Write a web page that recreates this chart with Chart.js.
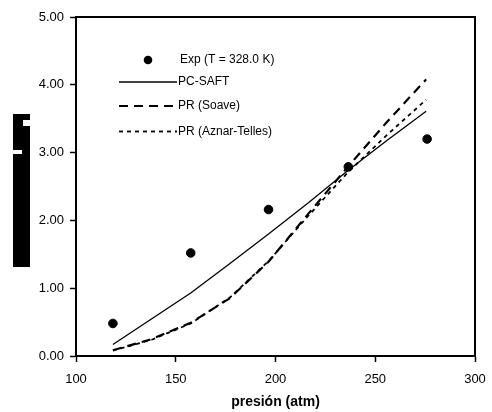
<!DOCTYPE html>
<html>
<head>
<meta charset="utf-8">
<script src="https://cdn.jsdelivr.net/npm/chart.js@4.4.1/dist/chart.umd.min.js"></script>
<style>
html,body{margin:0;padding:0;background:#fff;}
#wrap{width:492px;height:412px;position:relative;}
</style>
</head>
<body>
<div id="wrap"><canvas id="c" width="492" height="412"></canvas></div>
<script>
// Experimental points
const expPressure = [118.5, 157.5, 196.5, 236.5, 276];
const expValues = [0.48, 1.52, 2.16, 2.79, 3.20];
// Model curves
const modelPressure = [118.5, 138, 157.5, 177, 196.5, 216.5, 236, 255.5, 275.5];
const pcSaft = [0.17, 0.55, 0.93, 1.36, 1.80, 2.26, 2.73, 3.17, 3.61];
const prSoave = [0.085, 0.25, 0.49, 0.85, 1.39, 2.10, 2.78, 3.44, 4.08];
const prAznar = [0.08, 0.24, 0.48, 0.86, 1.40, 2.07, 2.70, 3.25, 3.78];
// Axis ticks
const xTicks = [100, 150, 200, 250, 300];
const yTicks = [0, 1, 2, 3, 4, 5];
const seriesLabels = ['Exp (T = 328.0 K)', 'PC-SAFT', 'PR (Soave)', 'PR (Aznar-Telles)'];
const xTitle = 'presión (atm)';

const toXY = (xs, ys) => xs.map((x, i) => ({x: x, y: ys[i]}));
const FONT = '"Liberation Sans", Arial, sans-serif';

const framePlugin = {
  id: 'frame',
  afterDraw(chart) {
    const {ctx, chartArea: a} = chart;
    ctx.save();
    ctx.strokeStyle = '#000';
    ctx.lineWidth = 2;
    ctx.beginPath();
    ctx.moveTo(a.left, a.top);
    ctx.lineTo(a.right, a.top);
    ctx.lineTo(a.right, a.bottom);
    ctx.stroke();
    // y-axis title block (as in the reference, rendered as a solid block)
    ctx.fillStyle = '#000';
    ctx.fillRect(13, 114, 17, 153);
    ctx.fillStyle = '#fff';
    ctx.fillRect(23, 120, 7, 6);
    ctx.fillRect(13, 150, 9, 4);
    ctx.restore();
  }
};

const legendPlugin = {
  id: 'customLegend',
  afterDatasetsDraw(chart) {
    const {ctx} = chart;
    const ds = chart.data.datasets;
    const rows = [60, 82, 106, 131.5];
    ctx.save();
    ctx.font = '12px ' + FONT;
    ctx.fillStyle = '#000';
    ctx.textBaseline = 'middle';
    ds.forEach((d, i) => {
      const y = rows[i];
      if (i === 0) {
        ctx.beginPath();
        ctx.arc(148, y, d.pointRadius, 0, Math.PI * 2);
        ctx.fill();
        ctx.fillText(d.label, 180, y);
      } else {
        ctx.strokeStyle = '#000';
        ctx.lineWidth = d.borderWidth;
        ctx.setLineDash(d.borderDash || []);
        ctx.beginPath();
        ctx.moveTo(119, y);
        ctx.lineTo(177, y);
        ctx.stroke();
        ctx.setLineDash([]);
        ctx.fillText(d.label, 178, y);
      }
    });
    ctx.restore();
  }
};

new Chart(document.getElementById('c'), {
  type: 'scatter',
  data: {
    datasets: [
      {label: seriesLabels[0], data: toXY(expPressure, expValues), pointRadius: 4.3,
       pointBackgroundColor: '#000', pointBorderColor: '#000', showLine: false},
      {label: seriesLabels[1], data: toXY(modelPressure, pcSaft), showLine: true, pointRadius: 0,
       borderColor: '#000', borderWidth: 1.3, tension: 0},
      {label: seriesLabels[2], data: toXY(modelPressure, prSoave), showLine: true, pointRadius: 0,
       borderColor: '#000', borderWidth: 2.2, borderDash: [9, 6], tension: 0},
      {label: seriesLabels[3], data: toXY(modelPressure, prAznar), showLine: true, pointRadius: 0,
       borderColor: '#000', borderWidth: 1.8, borderDash: [4, 4], tension: 0}
    ]
  },
  options: {
    responsive: false,
    animation: false,
    devicePixelRatio: 1,
    layout: {padding: {top: 17, right: 17, left: 0, bottom: 0}},
    plugins: {legend: {display: false}, tooltip: {enabled: false}},
    scales: {
      x: {
        type: 'linear', min: 100, max: 300,
        afterBuildTicks: s => { s.ticks = xTicks.map(v => ({value: v})); },
        afterFit: s => { s.height = 56; s.paddingLeft = 0; s.paddingRight = 0; },
        grid: {drawOnChartArea: false, drawTicks: true, tickLength: 6, tickColor: '#000', tickWidth: 1.5},
        border: {display: true, color: '#000', width: 2},
        ticks: {color: '#000', font: {family: FONT, size: 13}, padding: 10, maxRotation: 0, autoSkip: false},
        title: {display: true, text: xTitle, color: '#000', font: {family: FONT, size: 14, weight: 'bold'}, padding: {top: 0, bottom: 1}}
      },
      y: {
        type: 'linear', min: 0, max: 5,
        afterBuildTicks: s => { s.ticks = yTicks.map(v => ({value: v})); },
        afterFit: s => { s.width = 76; s.paddingTop = 0; s.paddingBottom = 0; },
        grid: {drawOnChartArea: false, drawTicks: true, tickLength: 6, tickColor: '#000', tickWidth: 1.5},
        border: {display: true, color: '#000', width: 2},
        ticks: {color: '#000', font: {family: FONT, size: 13}, padding: 6, callback: v => v.toFixed(2)}
      }
    }
  },
  plugins: [framePlugin, legendPlugin]
});
</script>
</body>
</html>
